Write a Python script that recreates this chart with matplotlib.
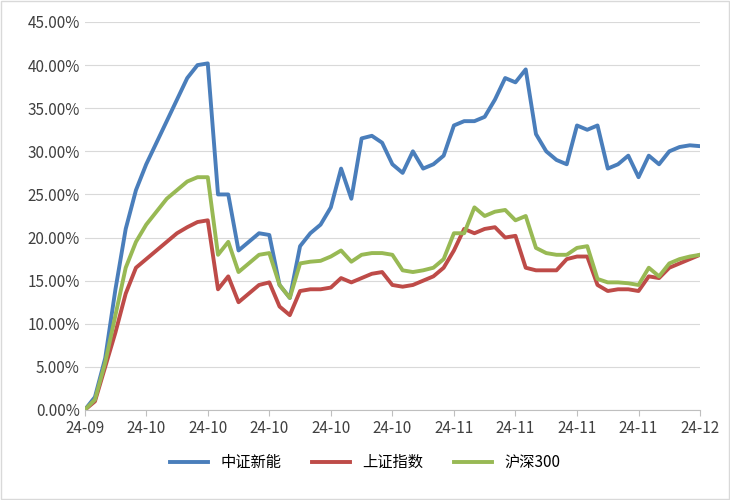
import matplotlib
matplotlib.use("Agg")
import matplotlib.pyplot as plt
import numpy as np
from matplotlib.ticker import FuncFormatter

plt.rcParams['font.family'] = ['Noto Sans CJK SC', 'DejaVu Sans']

tick_labels = ["24-09","24-10","24-10","24-10","24-10","24-10","24-11","24-11","24-11","24-11","24-12"]
xinzhineng = [0,1.5,6,14,21,25.5,28.5,31,33.5,36,38.5,40,40.2,25,25,18.5,19.5,20.5,20.3,14.5,13,19,20.5,21.5,23.5,28,24.5,31.5,31.8,31,28.5,27.5,30,28,28.5,29.5,33,33.5,33.5,34,36,38.5,38,39.5,32,30,29,28.5,33,32.5,33,28,28.5,29.5,27,29.5,28.5,30,30.5,30.7,30.6]
shangzheng = [0,1,5,9,13.5,16.5,17.5,18.5,19.5,20.5,21.2,21.8,22,14,15.5,12.5,13.5,14.5,14.8,12,11,13.8,14,14,14.2,15.3,14.8,15.3,15.8,16,14.5,14.3,14.5,15,15.5,16.5,18.5,21,20.5,21,21.2,20,20.2,16.5,16.2,16.2,16.2,17.5,17.8,17.8,14.5,13.8,14,14,13.8,15.5,15.3,16.5,17,17.5,18]
hs300 = [0,1.2,5.5,11,16.5,19.5,21.5,23,24.5,25.5,26.5,27,27,18,19.5,16,17,18,18.2,14.5,13,17,17.2,17.3,17.8,18.5,17.2,18,18.2,18.2,18,16.2,16,16.2,16.5,17.5,20.5,20.5,23.5,22.5,23,23.2,22,22.5,18.8,18.2,18,18,18.8,19,15.2,14.8,14.8,14.7,14.5,16.5,15.5,17,17.5,17.8,18]

fig = plt.figure(figsize=(7.3,5), dpi=100)
ax = fig.add_axes([0.116,0.18,0.843,0.776])
for ys,c,l in [(xinzhineng,'#4a7ebb','中证新能'),(shangzheng,'#be4b48','上证指数'),(hs300,'#98b954','沪深300')]:
    ax.plot(np.arange(len(ys)), ys, color=c, lw=2.8, label=l, solid_joinstyle='round')
ax.set_ylim(0,45)
ax.set_yticks(np.arange(0,46,5))
ax.yaxis.set_major_formatter(FuncFormatter(lambda v,p: f"{v:.2f}%"))
ax.set_xlim(0,60)
ax.set_xticks(np.arange(0,61,6))
ax.set_xticklabels(tick_labels)
ax.grid(axis='y', color='#d9d9d9', lw=0.8)
ax.set_axisbelow(True)
for s in ['top','right','left']:
    ax.spines[s].set_visible(False)
ax.spines['bottom'].set_color('#bfbfbf')
ax.tick_params(axis='y', length=0, labelsize=11, colors='#404040')
ax.tick_params(axis='x', length=4, color='#bfbfbf', labelsize=11, colors='#404040')
fig.legend(loc='lower center', bbox_to_anchor=(0.5,0.03), ncol=3, frameon=False, fontsize=11, handlelength=2.5)
fig.patches.append(plt.Rectangle((0.002,0.002),0.996,0.996, transform=fig.transFigure, fill=False, ec='#d9d9d9', lw=1))
fig.savefig("out.png", dpi=100)
